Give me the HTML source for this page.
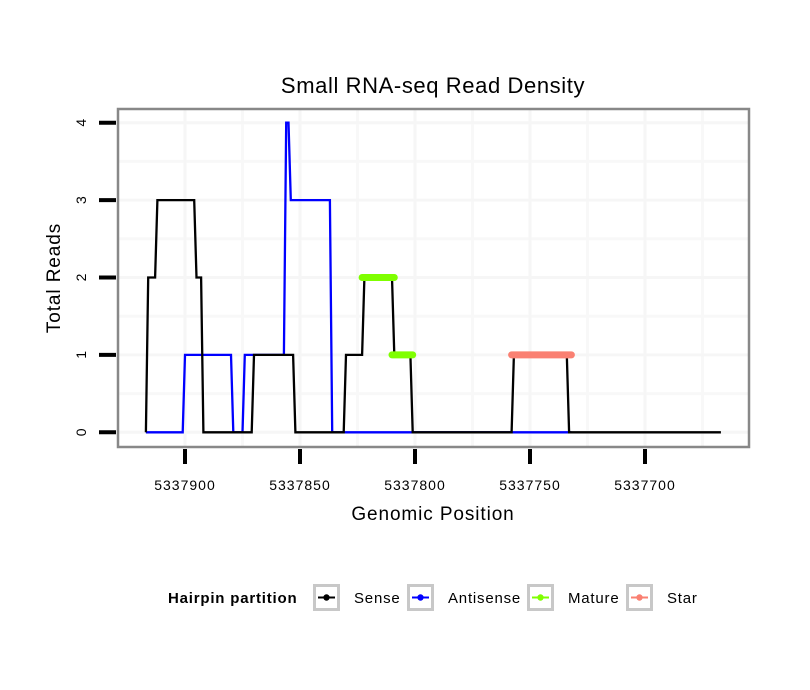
<!DOCTYPE html>
<html><head><meta charset="utf-8"><style>
body{margin:0;background:#fff;}
svg{display:block;font-family:"Liberation Sans",sans-serif;}
</style></head><body>
<svg id="chart" width="810" height="690" xmlns="http://www.w3.org/2000/svg">
<rect width="810" height="690" fill="#fff"/>
<text x="433" y="93" font-size="22" letter-spacing="0.6" text-anchor="middle">Small RNA-seq Read Density</text>
<g id="grid"></g>
<g id="series"></g>
<rect x="118" y="109" width="631" height="338" fill="none" stroke="#888" stroke-width="2.5"/>
<g id="axes"></g>
<text x="433" y="520" font-size="19" letter-spacing="0.9" text-anchor="middle">Genomic Position</text>
<text transform="translate(60,278) rotate(-90)" font-size="19" letter-spacing="0.9" text-anchor="middle">Total Reads</text>
<g>
<text x="168" y="603" font-size="15" letter-spacing="0.8" font-weight="bold">Hairpin partition</text>
<g id="legend"></g>
</g>
</svg>
<script>
const xTicks=[5337900,5337850,5337800,5337750,5337700];
const yTicks=[0,1,2,3,4];
const sensePos=[5337917,5337916,5337913,5337912,5337896,5337895,5337893,5337892,5337871,5337870,5337853,5337852,5337831,5337830,5337823,5337822,5337810,5337809,5337802,5337801,5337758,5337757,5337734,5337733,5337667];
const senseVal=[0,2,2,3,3,2,2,0,0,1,1,0,0,1,1,2,2,1,1,0,0,1,1,0,0];
const antiPos=[5337917,5337901,5337900,5337880,5337879,5337875,5337874,5337857,5337856,5337855,5337854,5337837,5337836,5337732];
const antiVal=[0,0,1,1,0,0,1,1,4,4,3,3,0,0];
const maturePos=[[5337823,5337809],[5337810,5337801]];
const matureVal=[2,1];
const starPos=[[5337758,5337732]];
const starVal=[1];
const legendLabels=["Sense","Antisense","Mature","Star"];
const legendColors=["#000000","#0000ff","#7fff00","#fa8072"];

const NS="http://www.w3.org/2000/svg";
function X(p){return 185+(5337900-p)*2.3;}
function Y(v){return 432.3-v*77.4;}
function mk(tag,attrs,parent){const e=document.createElementNS(NS,tag);for(const k in attrs)e.setAttribute(k,attrs[k]);parent.appendChild(e);return e;}
const grid=document.getElementById('grid'),series=document.getElementById('series'),axes=document.getElementById('axes'),legend=document.getElementById('legend');
mk('rect',{x:118,y:109,width:631,height:338,fill:'#fff'},grid);
for(let i=0;i<xTicks.length;i++){const m=xTicks[i]-25;if(X(m)>748)continue;const l=mk('line',{x1:X(m),x2:X(m),y1:110,y2:446,stroke:'#f8f8f8','stroke-width':3},grid);
}
for(let i=0;i<yTicks.length-1;i++){const v=yTicks[i]+0.5;const l=mk('line',{x1:119,x2:748,y1:Y(v),y2:Y(v),stroke:'#f8f8f8','stroke-width':3},grid);
}
xTicks.forEach(t=>{const l=mk('line',{x1:X(t),x2:X(t),y1:110,y2:446,stroke:'#f6f6f6','stroke-width':3},grid);
});
yTicks.forEach(t=>{const l=mk('line',{x1:119,x2:748,y1:Y(t),y2:Y(t),stroke:'#f6f6f6','stroke-width':3},grid);
});
function path(pos,val,color,w,name){const d=pos.map((p,i)=>(i?'L':'M')+X(p).toFixed(1)+','+Y(val[i]).toFixed(1)).join('');
const e=mk('path',{d:d,fill:'none',stroke:color,'stroke-width':w,'stroke-linejoin':'miter'},series);
}
path(antiPos,antiVal,'#0000ff',2.3,'antisense-line');
path(sensePos,senseVal,'#000000',2.3,'sense-line');
maturePos.forEach((s,i)=>{const e=mk('line',{x1:X(s[0]),x2:X(s[1]),y1:Y(matureVal[i]),y2:Y(matureVal[i]),stroke:'#7fff00','stroke-width':7,'stroke-linecap':'round'},series);
});
starPos.forEach((s,i)=>{const e=mk('line',{x1:X(s[0]),x2:X(s[1]),y1:Y(starVal[i]),y2:Y(starVal[i]),stroke:'#fa8072','stroke-width':7,'stroke-linecap':'round'},series);
});
xTicks.forEach(t=>{const l=mk('line',{x1:X(t),x2:X(t),y1:449,y2:464,stroke:'#000','stroke-width':4},axes);

const tx=mk('text',{x:X(t),y:490,'font-size':14,'letter-spacing':1,'text-anchor':'middle'},axes);tx.textContent=t;
});
yTicks.forEach(t=>{const l=mk('line',{x1:99,x2:116,y1:Y(t),y2:Y(t),stroke:'#000','stroke-width':4},axes);

const tx=mk('text',{transform:'translate(86,'+Y(t)+') rotate(-90)','font-size':14,'text-anchor':'middle'},axes);tx.textContent=t;
});
const keyX=[313,407,527,626];
legendLabels.forEach((lab,i)=>{const g=mk('g',{},legend);

mk('rect',{x:keyX[i]+1.5,y:585.5,width:24,height:24,fill:'#fff',stroke:'#c8c8c8','stroke-width':3},g);
mk('line',{x1:keyX[i]+5,x2:keyX[i]+22,y1:597.5,y2:597.5,stroke:legendColors[i],'stroke-width':2},g);
mk('circle',{cx:keyX[i]+13.5,cy:597.5,r:3.2,fill:legendColors[i]},g);
const t=mk('text',{x:keyX[i]+41,y:603,'font-size':15,'letter-spacing':0.8},g);t.textContent=lab;});
</script>
</body></html>
